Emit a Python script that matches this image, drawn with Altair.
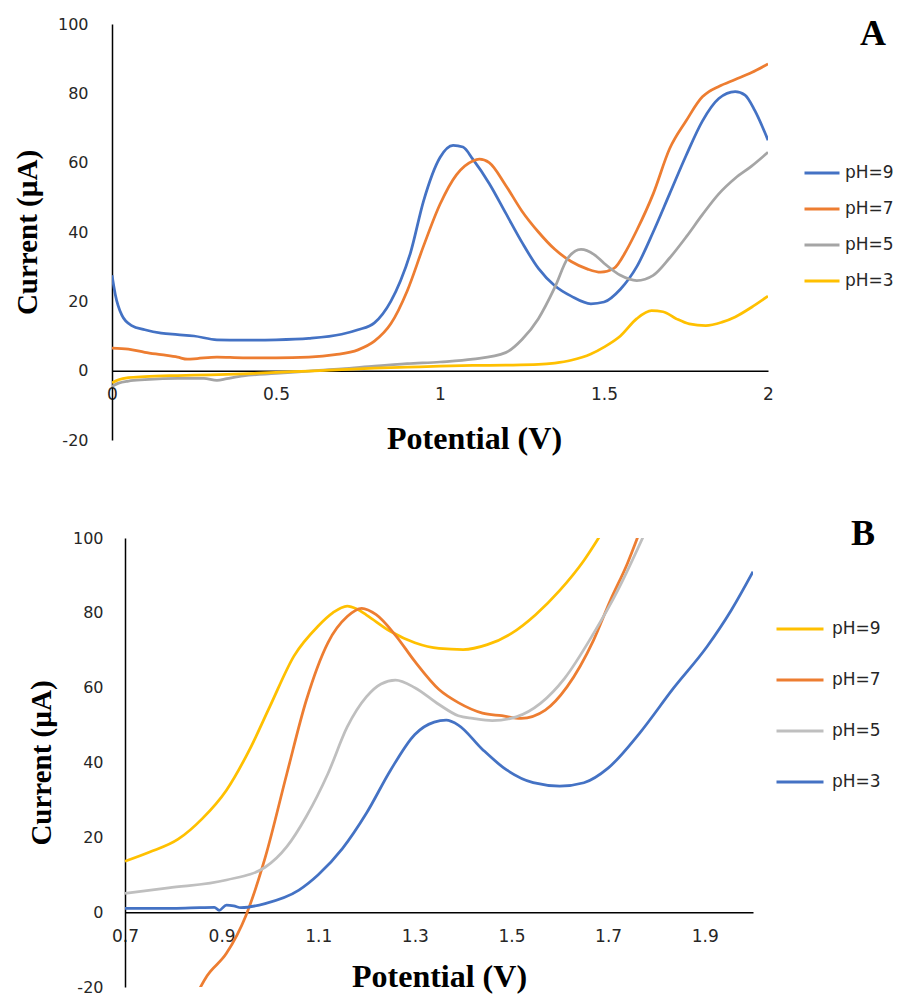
import altair as alt
import pandas as pd

SERIES = ["pH=9", "pH=7", "pH=5", "pH=3"]

# ---------------- Panel A ----------------
a9_x = [0, 0.01, 0.03, 0.06, 0.1, 0.15, 0.2, 0.25, 0.32, 0.4, 0.5, 0.6, 0.7, 0.75, 0.8, 0.85, 0.88, 0.91,
        0.95, 1.0, 1.04, 1.07, 1.1, 1.15, 1.2, 1.25, 1.3, 1.35, 1.4, 1.46, 1.5, 1.55, 1.6, 1.65, 1.7, 1.75,
        1.8, 1.85, 1.9, 1.93, 1.96, 2.0]
a9_y = [27.5, 22, 16, 13, 11.8, 10.8, 10.4, 10.0, 8.9, 8.8, 8.9, 9.3, 10.5, 11.8, 13.8, 20, 26, 34,
        49, 61.5, 65, 64.5, 61, 54, 45.5, 37, 29.5, 24.5, 21.5, 19.3, 19.8, 23.5, 30, 40, 51, 62,
        72, 78.5, 80.5, 79.5, 75, 66.5]

a7_x = [0, 0.05, 0.1, 0.15, 0.2, 0.23, 0.26, 0.32, 0.4, 0.5, 0.6, 0.68, 0.75, 0.8, 0.85, 0.9, 0.95, 1.0,
        1.05, 1.1, 1.12, 1.15, 1.2, 1.25, 1.3, 1.35, 1.4, 1.45, 1.49, 1.53, 1.57, 1.6, 1.65, 1.7, 1.75,
        1.8, 1.82, 1.85, 1.9, 1.95, 2.0]
a7_y = [6.5, 6.2, 5.3, 4.6, 3.9, 3.3, 3.5, 3.9, 3.7, 3.7, 3.9, 4.6, 6, 8.5, 13.5, 23, 36, 48,
        56.5, 60.5, 61, 60, 53.5, 46, 40, 35, 31.5, 29.3, 28.4, 29.5, 35, 40.5, 51, 64, 72,
        79, 80.5, 82, 84, 86, 88.5]

a5_x = [0, 0.02, 0.05, 0.1, 0.2, 0.28, 0.32, 0.35, 0.4, 0.5, 0.6, 0.7, 0.8, 0.9, 1.0, 1.1, 1.2, 1.25,
        1.3, 1.35, 1.39, 1.43, 1.47, 1.5, 1.55, 1.6, 1.65, 1.7, 1.75, 1.8, 1.85, 1.9, 1.95, 2.0]
a5_y = [-4.5, -3.6, -3, -2.6, -2.2, -2.2, -2.8, -2.3, -1.5, -0.8, -0.1, 0.5, 1.3, 2, 2.5, 3.3, 5.2, 9,
        15, 24, 32.5, 35, 33.5, 31, 27.5, 26, 27.5, 32.5, 38.5, 45, 51, 55.5, 59, 63]

a3_x = [0, 0.02, 0.05, 0.1, 0.2, 0.3, 0.4, 0.5, 0.6, 0.7, 0.8, 0.9, 1.0, 1.1, 1.2, 1.3, 1.35, 1.4,
        1.46, 1.5, 1.55, 1.6, 1.645, 1.68, 1.72, 1.76, 1.81, 1.86, 1.9, 1.95, 2.0]
a3_y = [-3.5, -2.6, -2, -1.7, -1.4, -1.2, -0.9, -0.5, -0.1, 0.3, 0.7, 1, 1.3, 1.5, 1.6, 1.8, 2.2, 3,
        4.8, 6.8, 10, 15, 17.3, 17, 15, 13.5, 13, 14, 15.5, 18.3, 21.5]

# ---------------- Panel B ----------------
b9_x = [0.7, 0.75, 0.81, 0.86, 0.91, 0.96, 1.0, 1.05, 1.1, 1.13, 1.16, 1.18, 1.2, 1.25, 1.3, 1.35,
        1.4, 1.45, 1.5, 1.55, 1.6, 1.65, 1.69]
b9_y = [13.6, 16, 19.5, 25, 32.6, 44, 55, 68.5, 76.5, 80, 81.8, 81, 79.4, 75, 72, 70.5,
        70.2, 71.5, 74.5, 79.5, 86, 94, 102]

b7_x = [0.84, 0.87, 0.91, 0.95, 0.99, 1.035, 1.075, 1.12, 1.16, 1.19, 1.22, 1.26, 1.3, 1.35, 1.39,
        1.44, 1.48, 1.52, 1.57, 1.615, 1.67, 1.705, 1.74, 1.765]
b7_y = [-24, -17, -11, -1, 14.5, 37, 56.5, 72, 79, 81.2, 79.5, 74, 67, 59.5, 56,
        53.2, 52.5, 51.8, 54, 60.2, 72.7, 83.4, 93.2, 101.5]

b5_x = [0.7, 0.79, 0.91, 0.99, 1.035, 1.075, 1.12, 1.16, 1.2, 1.23, 1.26, 1.3, 1.35, 1.39, 1.42,
        1.46, 1.51, 1.56, 1.61, 1.67, 1.72, 1.775]
b5_y = [5, 6.5, 8.6, 12, 17.5, 25.5, 37, 49.5, 57.6, 61, 62, 60, 55.5, 52.5, 51.8,
        51.2, 52.2, 55.8, 62.5, 74.5, 86, 101]

b3_x = [0.7, 0.8, 0.855, 0.885, 0.895, 0.91, 0.925, 0.94, 0.99, 1.06, 1.1, 1.15, 1.2, 1.25, 1.3,
        1.34, 1.365, 1.39, 1.44, 1.49, 1.545, 1.6, 1.65, 1.7, 1.765, 1.835, 1.905, 1.955, 2.0]
b3_y = [1, 1, 1.2, 1.3, 0.5, 1.9, 1.7, 1.2, 2.3, 5.9, 10, 17, 26.5, 38, 47.5,
        50.8, 51.3, 50, 43.5, 38, 34.6, 33.7, 34.6, 38.5, 47.8, 59.8, 71, 80.7, 91]

A_COLORS = ["#4472C4", "#ED7D31", "#A5A5A5", "#FFC000"]
B_COLORS = ["#FFC000", "#ED7D31", "#BFBFBF", "#4472C4"]

Y_TICKS = [-20, 0, 20, 40, 60, 80, 100]
A_X_TICKS = [0, 0.5, 1, 1.5, 2]
B_X_TICKS = [0.7, 0.9, 1.1, 1.3, 1.5, 1.7, 1.9]


def frame(series):
    rows = []
    for name, xs, ys in series:
        for x, y in zip(xs, ys):
            rows.append({"V": x, "I": y, "pH": name})
    return pd.DataFrame(rows)


dfA = frame([("pH=9", a9_x, a9_y), ("pH=7", a7_x, a7_y), ("pH=5", a5_x, a5_y), ("pH=3", a3_x, a3_y)])
dfB = frame([("pH=9", b9_x, b9_y), ("pH=7", b7_x, b7_y), ("pH=5", b5_x, b5_y), ("pH=3", b3_x, b3_y)])

LABEL_FONT = "DejaVu Sans"
TITLE_FONT = "Liberation Serif"
LABEL_COLOR = "#262626"


def panel(df, colors, xdom, xticks, width, height, xstart, xoffset, ylabpad, xlabpad,
          xtitle_x, xtitle_y, ytitle_x, legx, legy, symsize, laboff, rowpad,
          letter, letter_x, letter_y, guard_y1, guard_y2):
    yaxis = alt.Axis(values=Y_TICKS, ticks=False, grid=False, domainColor="black", domainWidth=1.5,
                     offset=-xstart,
                     labelFont=LABEL_FONT, labelFontSize=16, labelColor=LABEL_COLOR,
                     labelPadding=ylabpad, labelExpr="'' + datum.value",
                     title="Current (µA)", titleFont=TITLE_FONT, titleFontSize=29,
                     titleFontWeight="bold", titleColor="black",
                     titleX=ytitle_x, titleY=height / 2, titleAngle=270,
                     titleAlign="center", titleBaseline="middle")
    xaxis = alt.Axis(values=xticks, ticks=False, grid=False, domainColor="black", domainWidth=1.5,
                     offset=xoffset, labelFont=LABEL_FONT, labelFontSize=17, labelColor=LABEL_COLOR,
                     labelPadding=xlabpad, labelFlush=False, labelOverlap=False, format="~g",
                     title="Potential (V)", titleFont=TITLE_FONT, titleFontSize=32,
                     titleFontWeight="bold", titleColor="black",
                     titleX=xtitle_x, titleY=xtitle_y, titleAlign="center", titleBaseline="middle")
    legend = alt.Legend(title=None, orient="none", legendX=legx, legendY=legy,
                        symbolType="stroke", symbolSize=symsize, symbolStrokeWidth=3,
                        labelFont=LABEL_FONT, labelFontSize=17, labelColor=LABEL_COLOR,
                        labelOffset=laboff, rowPadding=rowpad, padding=0)
    lines = alt.Chart(df).mark_line(strokeWidth=2.75, interpolate="monotone", clip=True).encode(
        x=alt.X("V:Q", scale=alt.Scale(domain=xdom, nice=False, zero=False, range=[xstart, width]),
                axis=xaxis),
        y=alt.Y("I:Q", scale=alt.Scale(domain=[-20, 100], nice=False), axis=yaxis),
        color=alt.Color("pH:N", scale=alt.Scale(domain=SERIES, range=colors), legend=legend),
    )
    letter_layer = alt.Chart(pd.DataFrame({"t": [letter]})).mark_text(
        font=TITLE_FONT, fontSize=36, fontWeight="bold", color="black",
        align="center", baseline="alphabetic").encode(
        text="t:N", x=alt.value(letter_x), y=alt.value(letter_y))
    guard = alt.Chart(pd.DataFrame({"g": [0]})).mark_rule(opacity=0).encode(
        x=alt.value(-104), x2=alt.value(-104), y=alt.value(guard_y1), y2=alt.value(guard_y2))
    return alt.layer(lines, letter_layer, guard).properties(width=width, height=height)


# both panels share the same group origin (x=112); panel B's data area starts 13px further right
chartA = panel(dfA, A_COLORS, [0, 2], A_X_TICKS, 656, 416, 0, -69.33, 24, 16,
               362, 68, -85, 691, 130, 1225, 4, 9,
               "A", 761, 21, -16, 466)
chartB = panel(dfB, B_COLORS, [0.7, 2.0], B_X_TICKS, 641, 449, 13, -74.83, 22, 16,
               327, 64, -84, 663, 66, 2209, 7, 18,
               "B", 751, 7, -48, 0)

chart = alt.concat(chartA, chartB, columns=1, spacing=0, align="none").resolve_scale(
    color="independent", x="independent", y="independent"
).configure_view(strokeWidth=0).properties(padding=0)

chart.save("out.html", embed_options={"renderer": "svg", "actions": False})
